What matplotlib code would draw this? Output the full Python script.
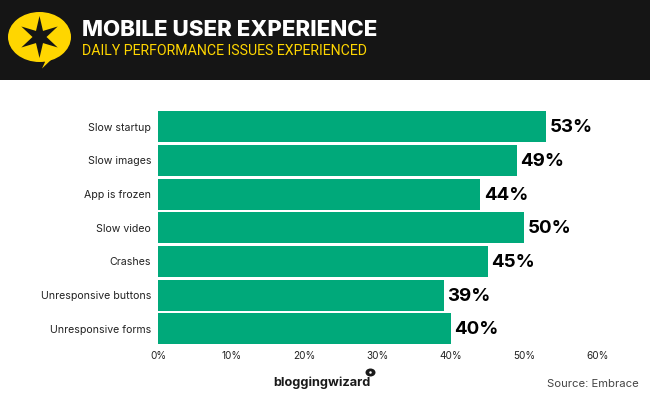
import numpy as np
import matplotlib
matplotlib.use("Agg")
import matplotlib.pyplot as plt
from matplotlib.patches import Ellipse, Polygon, Rectangle

categories = ["Slow startup", "Slow images", "App is frozen", "Slow video",
              "Crashes", "Unresponsive buttons", "Unresponsive forms"]
values = [53, 49, 44, 50, 45, 39, 40]
x_ticks = [0, 10, 20, 30, 40, 50, 60]

GREEN = "#00a97a"
YELLOW = "#ffd600"
DARK = "#151515"

W, H = 650, 400

def main():
    fig = plt.figure(figsize=(6.5, 4.0), dpi=100, facecolor="white")

    # overlay in pixel coords for header and logo
    bg = fig.add_axes([0, 0, 1, 1])
    bg.set_xlim(0, W)
    bg.set_ylim(H, 0)
    bg.axis("off")
    bg.add_patch(Rectangle((0, 0), W, 80, color=DARK, lw=0))
    bg.add_patch(Ellipse((39.5, 37), 63, 50, color=YELLOW, lw=0))
    bg.add_patch(Polygon([(43, 58), (53, 58), (42, 68.5), (45, 62)], color=YELLOW, lw=0))

    # six pointed star
    angles = np.deg2rad(np.arange(0, 360, 30) - 90)
    radii = [21 if i % 2 == 0 else 7 for i in range(12)]
    star = [(39.5 + r * np.cos(a), 37 + r * np.sin(a)) for r, a in zip(radii, angles)]
    bg.add_patch(Polygon(star, color=DARK, lw=0))

    bg.text(82, 30, "MOBILE USER EXPERIENCE", color="white", fontsize=16.05,
            fontweight="heavy", family="Inter", va="center", ha="left")
    bg.text(82, 51, "DAILY PERFORMANCE ISSUES EXPERIENCED", color=YELLOW, fontsize=10.2,
            family="Roboto", va="center", ha="left")

    bg.text(273, 383, "bloggingwizard", color="#1a1a1a", fontsize=9.2,
            fontweight="bold", family="Inter", va="center", ha="left")
    bg.add_patch(Ellipse((370.5, 372.5), 10, 8, color="#1a1a1a", lw=0))
    bg.add_patch(Ellipse((370.5, 372.5), 2.5, 2.5, color="white", lw=0))
    bg.text(639, 384, "Source: Embrace", color="#444444", fontsize=8.1,
            family="Inter", va="center", ha="right")

    ax = fig.add_axes([158 / W, 1 - 345.5 / H, (597.5 - 158) / W, (345.5 - 110) / H])
    ax.patch.set_alpha(0)
    y = np.arange(len(categories))
    ax.barh(y, values, height=0.92, color=GREEN)
    ax.set_ylim(len(categories) - 0.5, -0.5)
    ax.set_xlim(0, 60)
    ax.set_yticks(y, categories)
    ax.set_xticks(x_ticks, [f"{t}%" for t in x_ticks])
    ax.tick_params(length=0, labelcolor="#222222")
    ax.tick_params(axis="y", pad=5, labelsize=7.6)
    ax.tick_params(axis="x", pad=4, labelsize=7.2)
    for label in ax.get_xticklabels() + ax.get_yticklabels():
        label.set_family("Inter")
    for spine in ax.spines.values():
        spine.set_visible(False)

    for i, v in enumerate(values):
        ax.annotate(f"{v}%", (v, i), xytext=(2.5, -0.7), textcoords="offset points",
                    va="center", ha="left", fontsize=13.5, fontweight="bold",
                    family="Inter", color="black")

    fig.savefig("out.png", dpi=100)

if __name__ == "__main__":
    main()
